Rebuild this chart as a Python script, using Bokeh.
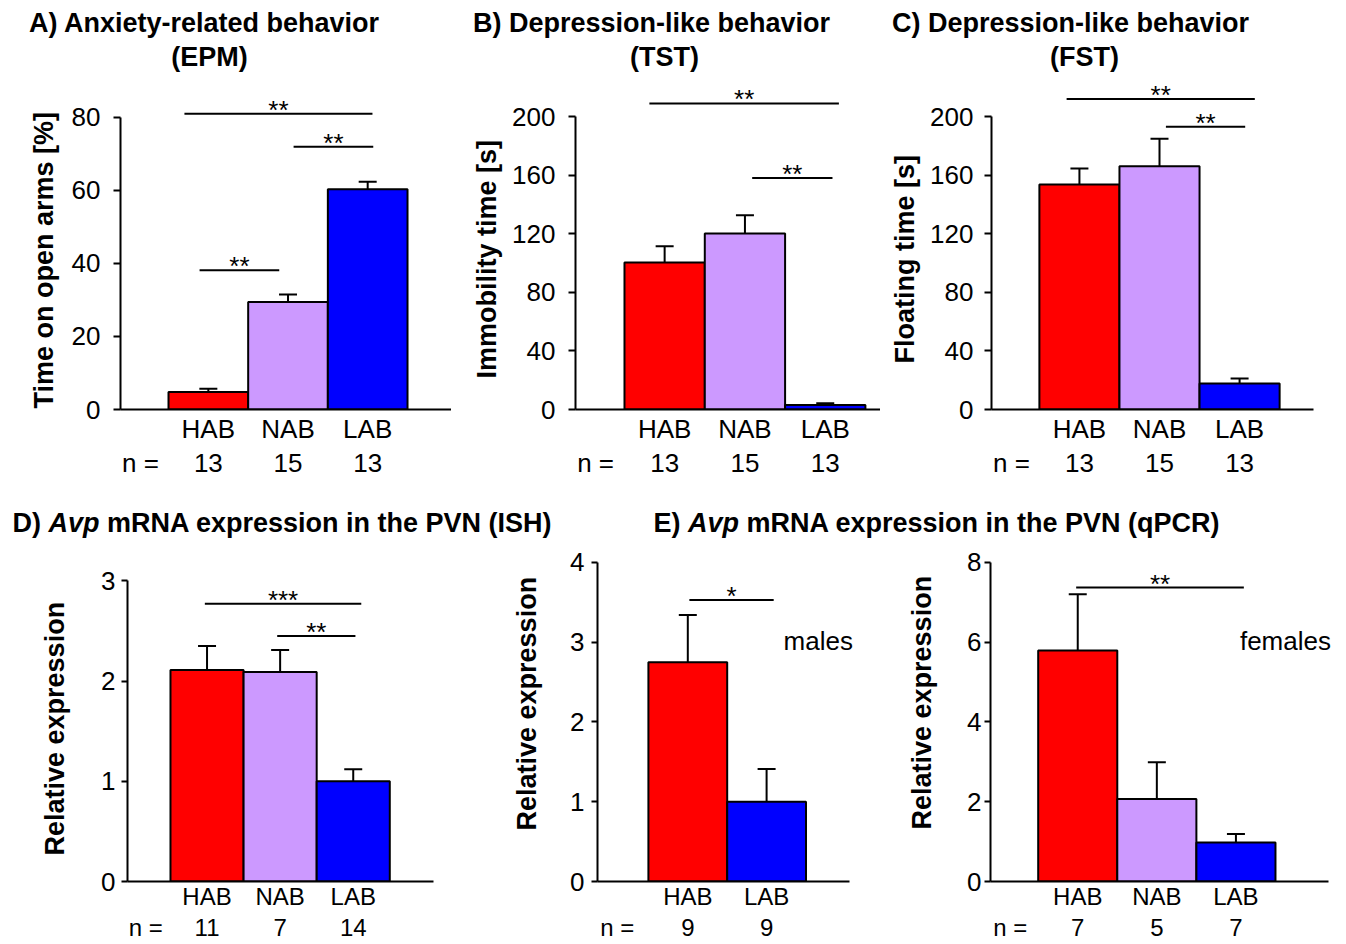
from bokeh.plotting import figure
from bokeh.models import (Range1d, FixedTicker, LinearAxis, CustomJSTickFormatter,
                          Whisker, TeeHead, ColumnDataSource, Title)
from bokeh.layouts import column, row
from bokeh.embed import file_html
from bokeh.resources import INLINE
from bokeh.core.properties import value

FONT = "Liberation Sans"
YLAB = "27px"
TITLE = "27px"

# ---------------- data ----------------
groups3 = ["HAB", "NAB", "LAB"]
groups2 = ["HAB", "LAB"]
colors3 = ["#FF0000", "#CC99FF", "#0000FF"]
colors2 = ["#FF0000", "#0000FF"]

# A) EPM
epm_mean = [4.8, 29.4, 60.3]
epm_sem = [0.9, 2.1, 2.0]
epm_n = [13, 15, 13]
epm_sig_x0 = [0.70, 2.07, 0.89]
epm_sig_x1 = [3.06, 3.07, 1.89]
epm_sig_y = [80.9, 71.9, 38.1]
epm_sig_txt = ["**", "**", "**"]
epm_ticks = [0, 20, 40, 60, 80]

# B) TST
tst_mean = [100.5, 120.3, 3.0]
tst_sem = [11.1, 12.5, 1.2]
tst_n = [13, 15, 13]
tst_sig_x0 = [0.81, 2.09]
tst_sig_x1 = [3.17, 3.09]
tst_sig_y = [209.2, 158.3]
tst_sig_txt = ["**", "**"]
tst_ticks = [0, 40, 80, 120, 160, 200]

# C) FST
fst_mean = [153.8, 166.3, 17.8]
fst_sem = [10.9, 18.7, 3.4]
fst_n = [13, 15, 13]
fst_sig_x0 = [0.84, 2.08]
fst_sig_x1 = [3.19, 3.07]
fst_sig_y = [212.3, 193.2]
fst_sig_txt = ["**", "**"]
fst_ticks = [0, 40, 80, 120, 160, 200]

# D) ISH
ish_mean = [2.11, 2.09, 1.0]
ish_sem = [0.24, 0.22, 0.12]
ish_n = [11, 7, 14]
ish_sig_x0 = [0.97, 1.96]
ish_sig_x1 = [3.11, 3.03]
ish_sig_y = [2.77, 2.45]
ish_sig_txt = ["***", "**"]
ish_ticks = [0, 1, 2, 3]

# E) qPCR males
male_mean = [2.75, 1.0]
male_sem = [0.59, 0.41]
male_n = [9, 9]
male_sig_x0 = [1.02]
male_sig_x1 = [2.09]
male_sig_y = [3.53]
male_sig_txt = ["*"]
male_ticks = [0, 1, 2, 3, 4]

# E) qPCR females
fem_mean = [5.79, 2.07, 0.98]
fem_sem = [1.41, 0.92, 0.21]
fem_n = [7, 5, 7]
fem_sig_x0 = [0.98]
fem_sig_x1 = [3.10]
fem_sig_y = [7.37]
fem_sig_txt = ["**"]
fem_ticks = [0, 2, 4, 6, 8]


def panel(cats, means, sems, ns, colors, sx0, sx1, sy, stxt, y_ticks, y_label,
          width, height, left, right, top, bottom, x_start, x_end, y_end, axis_end=None,
          label_standoff=13, ylab_standoff=15, ylab_offset=0, tick_out=7, s1=4, s2=1,
          xfont="26px", note=None, note_x=None, note_y=None):
    xs = [i + 1 for i in range(len(cats))]
    p = figure(width=width, height=height, x_range=Range1d(x_start, x_end),
               y_range=Range1d(0, y_end), output_backend="svg", toolbar_location=None,
               min_border_left=left, min_border_right=right, min_border_top=top,
               min_border_bottom=bottom)
    p.outline_line_color = None
    p.xgrid.visible = False
    p.ygrid.visible = False

    p.vbar(x=xs, top=means, bottom=0, width=1.0, fill_color=colors,
           line_color="black", line_width=2)
    src = ColumnDataSource(dict(base=xs, lower=means,
                                upper=[m + s for m, s in zip(means, sems)]))
    p.add_layout(Whisker(source=src, base="base", lower="lower", upper="upper",
                         line_color="black", line_width=2,
                         upper_head=TeeHead(size=18, line_color="black", line_width=2),
                         lower_head=None))
    p.segment(x0=sx0, y0=sy, x1=sx1, y1=sy, line_color="black", line_width=2)
    p.text(x=[(a + b) / 2 for a, b in zip(sx0, sx1)], y=sy, text=stxt,
           text_align="center", text_baseline="middle", y_offset=-4,
           text_font=value(FONT), text_font_size="26px", text_color="black")
    if note is not None:
        p.text(x=[note_x], y=[note_y], text=[note], text_align="center",
               text_baseline="middle", text_font=value(FONT), text_font_size="26px",
               text_color="black")

    ya = p.yaxis[0]
    ya.ticker = FixedTicker(ticks=y_ticks)
    ya.bounds = (0, y_ticks[-1])
    ya.minor_tick_line_color = None
    ya.major_tick_out = tick_out
    ya.major_tick_in = 0
    ya.major_tick_line_width = 2
    ya.major_tick_line_color = "black"
    ya.axis_line_width = 2
    ya.axis_line_color = "black"
    ya.major_label_text_font = FONT
    ya.major_label_text_font_size = "26px"
    ya.major_label_text_color = "black"
    ya.major_label_standoff = label_standoff

    # y-axis title placed as a side title so it can follow the axis span
    p.add_layout(Title(text=y_label, align="left", offset=ylab_offset,
                       standoff=ylab_standoff, text_font=FONT, text_font_size=YLAB,
                       text_font_style="bold", text_color="black"), "left")

    xa = p.xaxis[0]
    xa.ticker = FixedTicker(ticks=xs)
    xa.formatter = CustomJSTickFormatter(args=dict(labels=cats), code="return labels[index];")
    xa.bounds = (x_start, axis_end if axis_end is not None else x_end)
    xa.major_tick_line_color = None
    xa.minor_tick_line_color = None
    xa.major_tick_out = 0
    xa.major_tick_in = 0
    xa.axis_line_width = 2
    xa.axis_line_color = "black"
    xa.major_label_standoff = s1
    xa.major_label_text_font = FONT
    xa.major_label_text_font_size = xfont
    xa.major_label_text_color = "black"

    n_pos = x_start + 0.25
    n_labels = ["n ="] + [str(n) for n in ns]
    na = LinearAxis(ticker=FixedTicker(ticks=[n_pos] + xs),
                    formatter=CustomJSTickFormatter(args=dict(labels=n_labels),
                                                    code="return labels[index];"),
                    axis_line_color=None, major_tick_line_color=None,
                    minor_tick_line_color=None, major_tick_out=0, major_tick_in=0,
                    minor_tick_out=0, minor_tick_in=0, major_label_standoff=s2,
                    major_label_text_font=FONT, major_label_text_font_size=xfont,
                    major_label_text_color="black")
    p.add_layout(na, "below")
    return p


def strip(width, height):
    s = figure(width=width, height=height, x_range=Range1d(0, width),
               y_range=Range1d(0, height), x_axis_location=None, y_axis_location=None,
               toolbar_location=None, output_backend="svg", min_border=0)
    s.outline_line_color = None
    s.grid.visible = False
    return s


# ---------------- top titles ----------------
top = strip(1346, 75)
top_text = ["A) Anxiety-related behavior", "(EPM)",
            "B) Depression-like behavior", "(TST)",
            "C) Depression-like behavior", "(FST)"]
top_x = [204, 209, 651, 664, 1070, 1084]
top_y = [52.5, 18.5, 52.5, 18.5, 52.5, 18.5]
top.text(x=top_x, y=top_y, text=top_text, text_align="center", text_baseline="middle",
         text_font=value(FONT), text_font_size=TITLE, text_font_style="bold",
         text_color="black")

pa = panel(groups3, epm_mean, epm_sem, epm_n, colors3, epm_sig_x0, epm_sig_x1, epm_sig_y,
           epm_sig_txt, epm_ticks, "Time on open arms [%]",
           451, 405, 120, 0, 0, 71, -0.1025, 4.052, 91.4,
           label_standoff=13, ylab_standoff=20, ylab_offset=1)
pb = panel(groups3, tst_mean, tst_sem, tst_n, colors3, tst_sig_x0, tst_sig_x1, tst_sig_y,
           tst_sig_txt, tst_ticks, "Immobility time [s]",
           429, 405, 124, 0, 0, 71, -0.11, 3.688, 228.3,
           label_standoff=13, ylab_standoff=16, ylab_offset=31)
pc = panel(groups3, fst_mean, fst_sem, fst_n, colors3, fst_sig_x0, fst_sig_x1, fst_sig_y,
           fst_sig_txt, fst_ticks, "Floating time [s]",
           466, 405, 110, 33, 0, 71, -0.098, 3.923, 228.3,
           label_standoff=11, ylab_standoff=15, ylab_offset=46)

# ---------------- bottom titles ----------------
bot = strip(1346, 60)
fs = 27.0
w_D = (0.722 + 0.333 + 0.278) * fs
w_E = (0.667 + 0.333 + 0.278) * fs
w_Avp = (0.722 + 0.556 + 0.611) * fs
w_sp = 0.278 * fs
d0, e0 = 12, 653
ty = 17.2
bot.text(x=[d0, e0], y=[ty, ty], text=["D)", "E)"], text_align="left",
         text_baseline="middle", text_font=value(FONT), text_font_size=TITLE,
         text_font_style="bold", text_color="black")
bot.text(x=[d0 + w_D, e0 + w_E], y=[ty, ty], text=["Avp", "Avp"], text_align="left",
         text_baseline="middle", text_font=value(FONT), text_font_size=TITLE,
         text_font_style="bold italic", text_color="black")
bot.text(x=[d0 + w_D + w_Avp + w_sp, e0 + w_E + w_Avp + w_sp], y=[ty, ty],
         text=["mRNA expression in the PVN (ISH)", "mRNA expression in the PVN (qPCR)"],
         text_align="left", text_baseline="middle", text_font=value(FONT),
         text_font_size=TITLE, text_font_style="bold", text_color="black")

pd = panel(groups3, ish_mean, ish_sem, ish_n, colors3, ish_sig_x0, ish_sig_x1, ish_sig_y,
           ish_sig_txt, ish_ticks, "Relative expression",
           470, 404, 127, 37, 10, 63, -0.088, 4.098, 3.302,
           label_standoff=6, ylab_standoff=57, ylab_offset=26, tick_out=6, s1=1, s2=1,
           xfont="24px")
pm = panel(groups2, male_mean, male_sem, male_n, colors2, male_sig_x0, male_sig_x1,
           male_sig_y, male_sig_txt, male_ticks, "Relative expression",
           400, 404, 127, 11, 10, 63, -0.146, 3.179, 4.15, axis_end=3.052,
           label_standoff=7, ylab_standoff=52, ylab_offset=51, tick_out=6, s1=1, s2=1,
           xfont="24px", note="males", note_x=2.655, note_y=3.01)
pf = panel(groups3, fem_mean, fem_sem, fem_n, colors3, fem_sig_x0, fem_sig_x1, fem_sig_y,
           fem_sig_txt, fem_ticks, "Relative expression",
           476, 404, 120, 6, 10, 63, -0.103, 4.322, 8.30, axis_end=4.17,
           label_standoff=3, ylab_standoff=55, ylab_offset=52, tick_out=6, s1=1, s2=1,
           xfont="24px", note="females", note_x=3.626, note_y=6.04)

layout = column(top, row(pa, pb, pc), bot, row(pd, pm, pf))
open("out.html", "w").write(file_html(layout, INLINE))
